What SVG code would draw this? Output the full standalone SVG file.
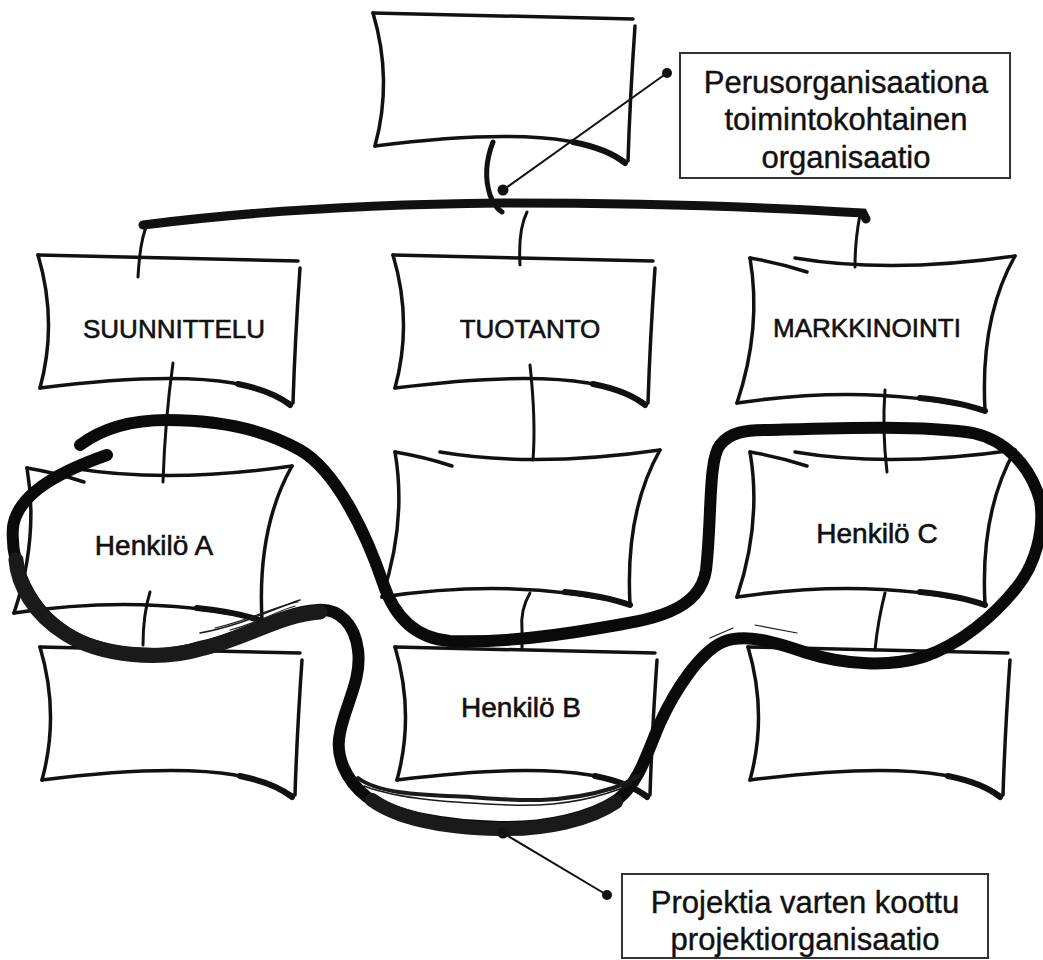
<svg xmlns="http://www.w3.org/2000/svg" width="1043" height="960" viewBox="0 0 1043 960">
<style>
.ln{fill:none;stroke:#111;stroke-width:3.5;stroke-linecap:round;stroke-linejoin:round}
.tail{fill:none;stroke:#111;stroke-width:6;stroke-linecap:round}
.con{fill:none;stroke:#111;stroke-width:3;stroke-linecap:round}
.thick{fill:none;stroke:#111;stroke-width:9;stroke-linecap:round}
.loop{fill:none;stroke:#0a0a0a;stroke-width:12;stroke-linecap:round;stroke-linejoin:round}
.strand{fill:none;stroke:#1a1a1a;stroke-linecap:round}
.lbl{font-family:"Liberation Sans",Arial,sans-serif;fill:#111;stroke:#111;stroke-width:0.6;text-anchor:middle}
.box{fill:#fff;stroke:#333;stroke-width:2}
.lead{stroke:#111;stroke-width:2}
.dot{fill:#111}
</style>
<defs>
<g id="boxA">
<path class="ln" d="M0,0 Q129,3 260,6"/>
<path class="ln" d="M0,0 Q20,67 2,133"/>
<path class="ln" d="M2,133 Q129,117 195,128 Q232,135 252,148"/>
<path class="ln" d="M262,13 Q257,85 255,148"/>
<path class="tail" d="M200,129 Q235,136 252,150"/>
</g>
<g id="boxB">
<path class="ln" d="M0,0 Q30,5 57,14"/>
<path class="ln" d="M45,0 Q140,16 265,-2"/>
<path class="ln" d="M265,-2 Q230,60 235,152"/>
<path class="ln" d="M-13,145 Q120,125 235,152"/>
<path class="ln" d="M0,0 Q12,70 -13,145"/>
<path class="tail" d="M170,140 Q210,144 235,153"/>
</g>
</defs>

<g id="connectors">
<path class="thick" d="M143,225 Q300,205 500,203 Q700,203 863,213 L866,219"/>
<path class="con" style="stroke-width:5" d="M493,142 Q482,170 490,195 Q495,208 502,212"/>
<path class="con" d="M147,225 Q140,240 138,277"/>
<path class="con" d="M527,212 Q518,230 520,265"/>
<path class="con" d="M860,215 Q855,240 855,267"/>
<path class="con" d="M173,363 Q165,420 163,482"/>
<path class="con" d="M530,365 Q536,420 533,460"/>
<path class="con" d="M885,390 Q882,430 887,472"/>
<path class="con" d="M150,592 Q143,615 143,645"/>
<path class="con" d="M530,593 Q520,610 522,630 L522,648"/>
<path class="con" d="M885,593 Q878,620 875,650"/>
</g>

<g id="node-top"><use href="#boxA" transform="translate(373,13)"/></g>
<g id="node-suunnittelu"><use href="#boxA" transform="translate(38,255)"/><text class="lbl" x="174" y="338" font-size="26">SUUNNITTELU</text></g>
<g id="node-tuotanto"><use href="#boxA" transform="translate(393,255)"/><text class="lbl" x="530" y="338" font-size="26">TUOTANTO</text></g>
<g id="node-markkinointi"><use href="#boxB" transform="translate(750,258)"/><text class="lbl" x="867" y="337" font-size="26">MARKKINOINTI</text></g>
<g id="node-henkilo-a"><use href="#boxB" transform="translate(27,468)"/><text class="lbl" x="154" y="555" font-size="28">Henkilö A</text></g>
<g id="node-tuotanto-2"><use href="#boxB" transform="translate(395,452)"/></g>
<g id="node-henkilo-c"><use href="#boxB" transform="translate(750,452)"/><text class="lbl" x="877" y="543" font-size="28">Henkilö C</text></g>
<g id="node-suunnittelu-3"><use href="#boxA" transform="translate(40,647)"/></g>
<g id="node-henkilo-b"><use href="#boxA" transform="translate(395,647)"/><text class="lbl" x="521" y="717" font-size="28">Henkilö B</text></g>
<g id="node-markkinointi-3"><use href="#boxA" transform="translate(748,647)"/></g>

<g id="project-loop">
<path class="loop" d="M80,445 C100,430 130,420 167,420 C220,420 265,430 300,450 C335,470 365,530 383,583 C392,610 410,638 450,641 C500,643 560,635 600,628 C650,620 700,612 706,570 C712,520 708,460 720,445 C730,432 745,430 770,430 C840,428 920,425 973,433 C1005,440 1030,465 1040,500 C1045,530 1035,565 1017,587 C995,615 960,645 923,657 C890,667 845,665 807,653 C775,642 745,633 723,642 C700,652 675,690 660,723 C648,750 640,782 617,800 C590,818 545,828 500,827 C450,826 395,818 367,797 C345,780 335,755 340,733 C345,705 362,680 358,650 C355,625 340,608 317,610 C280,612 240,640 200,647 C160,660 100,655 67,633 C30,610 10,565 13,527 C18,490 70,468 107,455"/>
<path class="strand" stroke-width="15" d="M320,612 C282,614 240,641 200,649 C160,661 100,656 66,634 C34,614 18,585 16,560"/>
<path class="strand" stroke-width="14" d="M372,800 C400,820 450,828 500,829 C545,830 590,820 616,802"/>
<path class="strand" stroke-width="4" d="M358,778 C380,795 430,795 470,797 C510,800 560,805 613,788 C625,784 632,780 638,776"/>
<path class="strand" stroke-width="1.5" d="M364,786 C400,800 460,803 510,805 C560,807 600,798 632,784"/>
<path class="strand" stroke-width="1.5" d="M200,633 C240,626 270,610 300,600"/>
<path class="strand" stroke-width="1.2" d="M215,628 C250,620 275,606 298,602"/>
<path class="strand" stroke-width="1.2" d="M230,630 C260,622 280,610 295,606"/>
<path class="strand" stroke-width="1.2" stroke="#888" d="M710,638 L733,628 M755,625 L797,633"/>
</g>

<g id="callout-perus">
<rect class="box" x="680" y="53" width="330" height="125"/>
<line class="lead" x1="667" y1="73" x2="503" y2="190"/>
<circle class="dot" cx="667" cy="73" r="5"/>
<circle class="dot" cx="503" cy="190" r="5.5"/>
<text class="lbl" font-size="31" style="stroke-width:0.4"><tspan x="846" y="93">Perusorganisaationa</tspan><tspan x="846" y="130">toimintokohtainen</tspan><tspan x="846" y="168">organisaatio</tspan></text>
</g>

<g id="callout-projekti">
<rect class="box" x="622" y="874" width="366" height="84"/>
<line class="lead" x1="503" y1="833" x2="607" y2="895"/>
<circle class="dot" cx="503" cy="833" r="5.5"/>
<circle class="dot" cx="607" cy="895" r="5"/>
<text class="lbl" font-size="31" style="stroke-width:0.4"><tspan x="805" y="913">Projektia varten koottu</tspan><tspan x="805" y="950">projektiorganisaatio</tspan></text>
</g>
</svg>
